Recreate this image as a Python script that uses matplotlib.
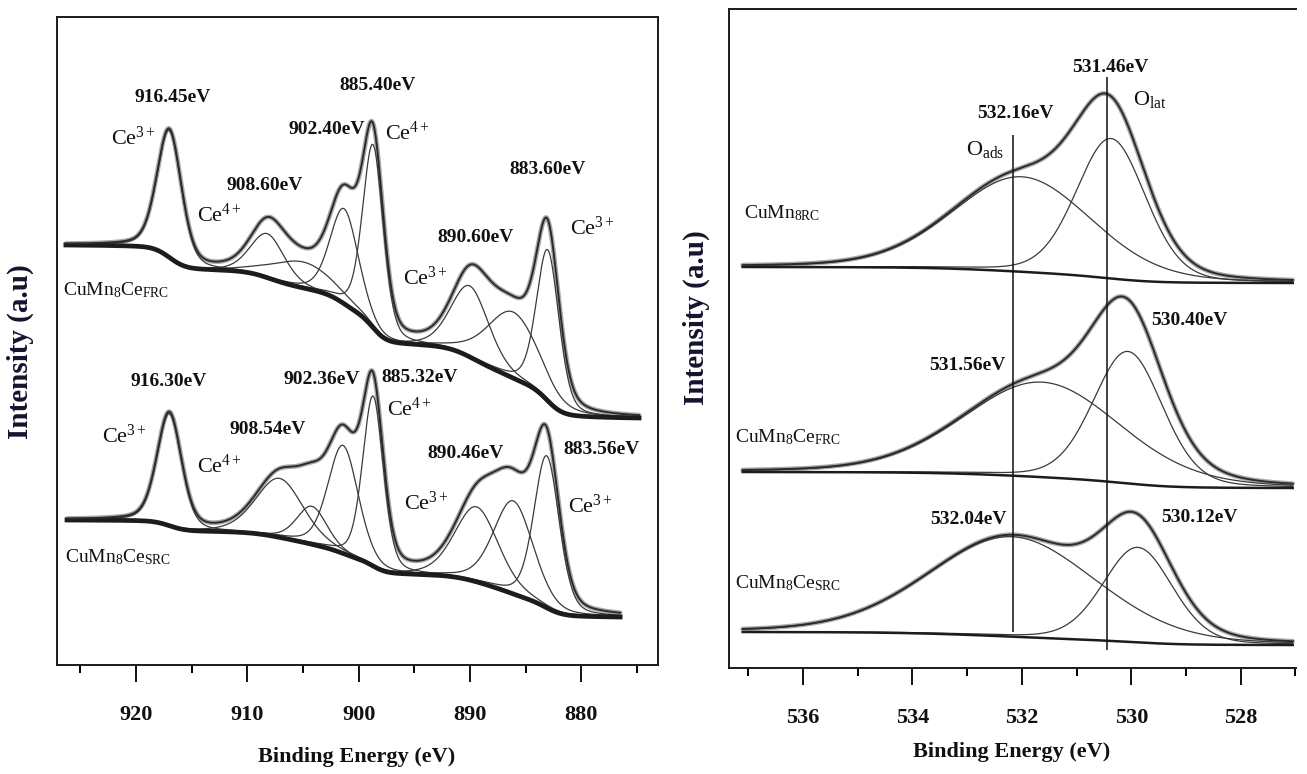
import numpy as np
import matplotlib
matplotlib.use('Agg')
import matplotlib.pyplot as plt
from matplotlib.ticker import MultipleLocator

plt.rcParams['font.family'] = ['Liberation Serif', 'DejaVu Serif']
plt.rcParams['mathtext.fontset'] = 'custom'
plt.rcParams['mathtext.rm'] = 'Liberation Serif'
plt.rcParams['mathtext.it'] = 'Liberation Serif:italic'
plt.rcParams['mathtext.bf'] = 'Liberation Serif:bold'

# ---- Ce 3d fits: component centre (eV), height (a.u.), FWHM (eV) ----
ce_frc_center = [917.0, 908.2, 905.0, 901.3, 898.7, 890.0, 886.1, 883.0]
ce_frc_height = [127, 44, 26, 95, 183, 71, 66, 151]
ce_frc_fwhm = [2.6, 3.6, 6.5, 3.0, 2.2, 4.0, 5.5, 2.4]
ce_frc_bg = [420, 247]          # background level at high-BE / low-BE end
ce_frc_range = [926.3, 874.8]

ce_src_center = [917.0, 907.1, 904.2, 901.4, 898.7, 889.4, 886.1, 883.1]
ce_src_height = [112, 59, 38, 108, 170, 75, 93, 152]
ce_src_fwhm = [2.6, 5.0, 3.2, 3.2, 2.2, 4.6, 4.2, 2.7]
ce_src_bg = [145, 48]
ce_src_range = [926.2, 876.5]

# ---- O 1s fits: O_ads, O_lat ----
o_rc_center = [532.0, 530.37]
o_rc_height = [95, 140]
o_rc_fwhm = [3.0, 1.5]
o_rc_bg = [401, 385]

o_frc_center = [531.63, 530.06]
o_frc_height = [95, 132]
o_frc_fwhm = [3.4, 1.5]
o_frc_bg = [196, 180]

o_src_center = [532.18, 529.88]
o_src_height = [100, 95]
o_src_fwhm = [3.6, 1.5]
o_src_bg = [36, 23]

o_range = [537.1, 527.05]
o_marker_lines = [532.16, 530.44]

# peak labels
ce_frc_labels = ['916.45eV', '908.60eV', '902.40eV', '885.40eV', '890.60eV', '883.60eV']
ce_src_labels = ['916.30eV', '908.54eV', '902.36eV', '885.32eV', '890.46eV', '883.56eV']
o_labels = ['531.46eV', '532.16eV', '530.40eV', '531.56eV', '532.04eV', '530.12eV']


def pseudo_voigt(E, c, h, w, eta):
    x = (E - c) / (w / 2.0)
    return h * ((1 - eta) * np.exp(-np.log(2) * x ** 2) + eta / (1 + x ** 2))


def shirley(peaks, hi, lo):
    # grid runs from high BE to low BE; step follows the peak area below each point
    area = np.cumsum(peaks[::-1])[::-1]
    return lo + (hi - lo) * area / area[0]


def draw_fit(ax, e_range, centers, heights, fwhms, bg_levels, eta, bg_lw):
    E = np.linspace(e_range[0], e_range[1], 1500)
    comps = [pseudo_voigt(E, c, h, w, eta) for c, h, w in zip(centers, heights, fwhms)]
    total = np.sum(comps, axis=0)
    bg = shirley(total, *bg_levels)
    ax.plot(E, bg + total, color='#a9a9a9', lw=3.4, solid_capstyle='round', zorder=2)
    for comp in comps:
        ax.plot(E, bg + comp, color='#3a3a3a', lw=0.9, zorder=3)
    ax.plot(E, bg, color='#1c1c1c', lw=bg_lw, zorder=4)
    ax.plot(E, bg + total, color='#2b2b2b', lw=1.4, zorder=5)


W, H = 1307, 774
fig = plt.figure(figsize=(W / 100, H / 100), dpi=100)
fig.patch.set_facecolor('white')

ax1 = fig.add_axes([57 / W, 1 - 665 / H, (658 - 57) / W, (665 - 17) / H])
ax2 = fig.add_axes([729 / W, 1 - 668 / H, (1296 - 729) / W, (668 - 9) / H])

# ---- left panel: Ce 3d ----
draw_fit(ax1, ce_frc_range, ce_frc_center, ce_frc_height, ce_frc_fwhm, ce_frc_bg, 0.3, 3.4)
draw_fit(ax1, ce_src_range, ce_src_center, ce_src_height, ce_src_fwhm, ce_src_bg, 0.3, 3.4)
ax1.set_xlim(927.1, 873.1)
ax1.set_ylim(0, 648)
ax1.xaxis.set_major_locator(MultipleLocator(10))
ax1.xaxis.set_minor_locator(MultipleLocator(5))

ev_kw = dict(fontsize=14, fontweight='bold', ha='center', va='center', color='#111111')
ce_kw = dict(fontsize=16, ha='center', va='center', color='#111111')
name_kw = dict(fontsize=14, ha='left', va='center', color='#111111')

ce_frc_label_pos = [(916.7, 568), (908.4, 480), (902.9, 535), (898.3, 580), (889.45, 428), (883.0, 495)]
ce_src_label_pos = [(917.1, 283), (908.2, 235), (903.3, 285), (894.5, 288), (890.4, 212), (878.2, 215)]
for txt, (x, y) in zip(ce_frc_labels, ce_frc_label_pos):
    ax1.text(x, y, txt, **ev_kw)
for txt, (x, y) in zip(ce_src_labels, ce_src_label_pos):
    ax1.text(x, y, txt, **ev_kw)

ce3 = r'Ce$^{\mathregular{3+}}$'
ce4 = r'Ce$^{\mathregular{4+}}$'
ox_states = [(ce3, 920.2, 527), (ce4, 912.5, 450), (ce4, 895.6, 532), (ce3, 894.0, 387), (ce3, 879.0, 437),
             (ce3, 921.0, 229), (ce4, 912.5, 199), (ce4, 895.4, 256), (ce3, 893.9, 162), (ce3, 879.2, 159)]
for txt, x, y in ox_states:
    ax1.text(x, y, txt, **ce_kw)

ax1.text(926.6, 375, r'CuMn$_\mathregular{8}$Ce$_\mathregular{FRC}$', **name_kw)
ax1.text(926.4, 108, r'CuMn$_\mathregular{8}$Ce$_\mathregular{SRC}$', **name_kw)

# ---- right panel: O 1s ----
draw_fit(ax2, o_range, o_rc_center, o_rc_height, o_rc_fwhm, o_rc_bg, 0.2, 1.8)
draw_fit(ax2, o_range, o_frc_center, o_frc_height, o_frc_fwhm, o_frc_bg, 0.2, 1.8)
draw_fit(ax2, o_range, o_src_center, o_src_height, o_src_fwhm, o_src_bg, 0.2, 1.8)
ax2.vlines(o_marker_lines[0], 36, 533, color='#111111', lw=1.1, zorder=6)
ax2.vlines(o_marker_lines[1], 18, 591, color='#111111', lw=1.1, zorder=6)
ax2.set_xlim(537.35, 526.99)
ax2.set_ylim(0, 659)
ax2.xaxis.set_major_locator(MultipleLocator(2))
ax2.xaxis.set_minor_locator(MultipleLocator(1))
ax2.spines['right'].set_visible(False)

o_label_pos = [(530.39, 601), (532.11, 555), (528.93, 348), (533.0, 303), (532.97, 148), (528.76, 150)]
for txt, (x, y) in zip(o_labels, o_label_pos):
    ax2.text(x, y, txt, **ev_kw)
ax2.text(529.97, 568, r'O$_\mathregular{lat}$', fontsize=16, ha='left', va='center', color='#111111')
ax2.text(532.67, 518, r'O$_\mathregular{ads}$', fontsize=16, ha='center', va='center', color='#111111')
ax2.text(537.08, 455, r'CuMn$_\mathregular{8RC}$', **name_kw)
ax2.text(537.24, 231, r'CuMn$_\mathregular{8}$Ce$_\mathregular{FRC}$', **name_kw)
ax2.text(537.24, 85, r'CuMn$_\mathregular{8}$Ce$_\mathregular{SRC}$', **name_kw)

for ax in (ax1, ax2):
    for sp in ax.spines.values():
        sp.set_linewidth(1.4)
        sp.set_color('#1a1a1a')
    ax.tick_params(axis='x', which='major', direction='out', length=12, width=1.4,
                   pad=17, labelsize=16, colors='#111111')
    ax.tick_params(axis='x', which='minor', direction='out', length=6, width=1.4)
    ax.tick_params(axis='y', left=False, labelleft=False)
    for lab in ax.get_xticklabels():
        lab.set_fontweight('bold')

lab_kw = dict(fontsize=16, fontweight='bold', ha='center', va='center', color='#111111')
fig.text(357 / W, 1 - 757 / H, 'Binding Energy (eV)', **lab_kw)
fig.text(1012 / W, 1 - 752 / H, 'Binding Energy (eV)', **lab_kw)
ylab_kw = dict(fontsize=21, fontweight='bold', ha='center', va='center', rotation=90, color='#14142e')
fig.text(20 / W, 1 - 352 / H, 'Intensity (a.u)', **ylab_kw)
fig.text(696 / W, 1 - 318 / H, 'Intensity (a.u)', **ylab_kw)

fig.savefig('out.png', dpi=100, facecolor='white')
